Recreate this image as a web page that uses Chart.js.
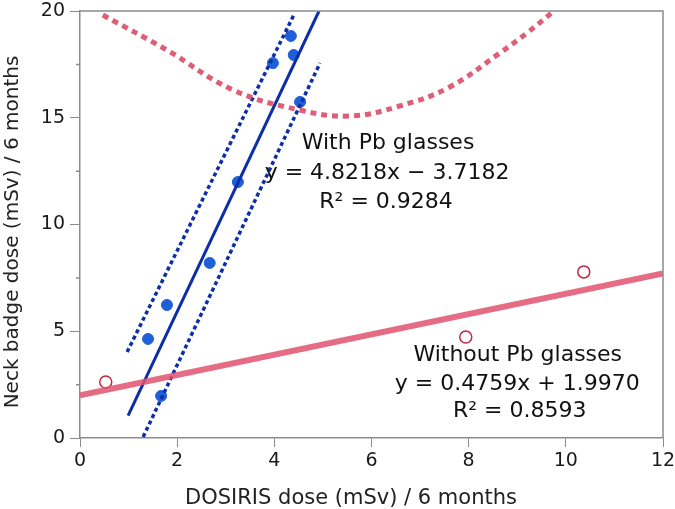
<!DOCTYPE html>
<html>
<head>
<meta charset="utf-8">
<script src="https://cdn.jsdelivr.net/npm/chart.js@4/dist/chart.umd.min.js"></script>
<style>
  html, body { margin: 0; padding: 0; background: #fff; }
  #wrap { width: 675px; height: 509px; }
</style>
</head>
<body>
<div id="wrap"><canvas id="doseChart"></canvas></div>
<script>
// With Pb glasses (filled blue)
const withPbX = [1.40, 1.67, 1.79, 2.67, 3.25, 3.97, 4.34, 4.40, 4.53];
const withPbY = [4.64, 1.97, 6.23, 8.20, 11.99, 17.56, 18.83, 17.94, 15.74];
// Without Pb glasses (open red)
const withoutPbX = [0.53, 7.94, 10.37];
const withoutPbY = [2.62, 4.73, 7.78];

// fitted lines and bands (end points)
const withFitX = [0.99, 4.92];
const withFitY = [1.05, 20.0];
const withUpperX = [0.97, 4.42];
const withUpperY = [4.03, 19.9];
const withLowerX = [1.30, 4.94];
const withLowerY = [0.05, 17.56];
const withoutFitX = [0, 12];
const withoutFitY = [1.997, 7.708];
const curveX = [0.47, 1.79, 3.15, 4.53, 5.56, 6.58, 7.61, 8.64, 9.20, 9.73];
const curveY = [19.81, 18.17, 16.30, 15.36, 15.08, 15.55, 16.44, 18.03, 18.97, 19.95];

const xTicks = [0, 2, 4, 6, 8, 10, 12];
const yTicks = [0, 5, 10, 15, 20];
const yMinorTicks = [2.5, 7.5, 12.5, 17.5];

const xTitle = 'DOSIRIS dose (mSv) / 6 months';
const yTitle = 'Neck badge dose (mSv) / 6 months';

const pts = (xs, ys) => xs.map((x, i) => ({ x: x, y: ys[i] }));

const notes = [
  { x: 6.34, y: 13.8, text: 'With Pb glasses' },
  { x: 6.32, y: 12.4, text: 'y = 4.8218x \u2212 3.7182' },
  { x: 6.30, y: 11.05, text: 'R\u00b2 = 0.9284' },
  { x: 9.01, y: 3.89, text: 'Without Pb glasses' },
  { x: 9.00, y: 2.53, text: 'y = 0.4759x + 1.9970' },
  { x: 9.05, y: 1.26, text: 'R\u00b2 = 0.8593' }
];

const AXIS_GREY = '#8c8c8c';
const FONT = '"DejaVu Sans", sans-serif';

const frameAndText = {
  id: 'frameAndText',
  afterDatasetsDraw(chart) {
    const ctx = chart.ctx, a = chart.chartArea;
    const xs = chart.scales.x, ys = chart.scales.y;
    ctx.save();
    ctx.strokeStyle = AXIS_GREY;
    ctx.lineWidth = 1.5;
    ctx.beginPath();
    ctx.moveTo(a.left, a.top);
    ctx.lineTo(a.right, a.top);
    ctx.lineTo(a.right, a.bottom);
    // short minor ticks on the y axis
    yMinorTicks.forEach(v => {
      const py = ys.getPixelForValue(v);
      ctx.moveTo(a.left - 4, py);
      ctx.lineTo(a.left, py);
    });
    ctx.stroke();

    ctx.fillStyle = '#111';
    ctx.font = '22px ' + FONT;
    ctx.textAlign = 'center';
    ctx.textBaseline = 'middle';
    notes.forEach(n => {
      ctx.fillText(n.text, xs.getPixelForValue(n.x), ys.getPixelForValue(n.y));
    });

    // axis titles
    ctx.fillStyle = '#222';
    ctx.font = '21px ' + FONT;
    ctx.fillText(xTitle, a.left + 271, 499);
    ctx.translate(13, a.top + 221);
    ctx.rotate(-Math.PI / 2);
    ctx.font = '20px ' + FONT;
    ctx.fillText(yTitle, 0, 0);
    ctx.restore();
  }
};

new Chart(document.getElementById('doseChart'), {
  type: 'scatter',
  data: {
    datasets: [
      {
        label: 'Without Pb fit',
        data: pts(withoutFitX, withoutFitY),
        showLine: true,
        borderColor: 'rgba(224,82,110,0.85)',
        borderWidth: 6,
        pointRadius: 0,
        order: 1
      },
      {
        label: 'Without Pb band',
        data: pts(curveX, curveY),
        showLine: true,
        tension: 0.4,
        borderColor: 'rgba(220,76,104,0.9)',
        borderWidth: 5,
        borderDash: [6, 5],
        pointRadius: 0,
        order: 2
      },
      {
        label: 'Without Pb glasses',
        data: pts(withoutPbX, withoutPbY),
        backgroundColor: '#ffffff',
        borderColor: '#c02848',
        borderWidth: 1.5,
        pointRadius: 6,
        order: 3
      },
      {
        label: 'With Pb fit',
        data: pts(withFitX, withFitY),
        showLine: true,
        borderColor: '#0c2ea6',
        borderWidth: 3,
        pointRadius: 0,
        order: 4
      },
      {
        label: 'With Pb upper',
        data: pts(withUpperX, withUpperY),
        showLine: true,
        borderColor: '#0c2ea6',
        borderWidth: 3.5,
        borderDash: [4, 3],
        pointRadius: 0,
        order: 5
      },
      {
        label: 'With Pb lower',
        data: pts(withLowerX, withLowerY),
        showLine: true,
        borderColor: '#0c2ea6',
        borderWidth: 3.5,
        borderDash: [4, 3],
        pointRadius: 0,
        order: 6
      },
      {
        label: 'With Pb glasses',
        data: pts(withPbX, withPbY),
        backgroundColor: '#1f5fd8',
        borderColor: '#1f5fd8',
        pointRadius: 5.5,
        order: 7
      }
    ]
  },
  options: {
    responsive: true,
    maintainAspectRatio: false,
    animation: false,
    layout: { padding: { top: 11, right: 12, left: 0, bottom: 0 } },
    plugins: {
      legend: { display: false },
      tooltip: { enabled: false }
    },
    scales: {
      x: {
        type: 'linear',
        min: 0,
        max: 12,
        afterBuildTicks: s => { s.ticks = xTicks.map(v => ({ value: v })); },
        afterFit: s => { s.height = 71; s.paddingLeft = 0; s.paddingRight = 0; },
        grid: { display: true, drawOnChartArea: false, drawTicks: true, tickLength: 9, color: AXIS_GREY },
        border: { display: true, color: AXIS_GREY, width: 1.5 },
        ticks: {
          color: '#1a1a1a',
          padding: 3,
          maxRotation: 0,
          font: { family: FONT, size: 19 }
        },
        title: { display: false }
      },
      y: {
        type: 'linear',
        min: 0,
        max: 20,
        afterBuildTicks: s => { s.ticks = yTicks.map(v => ({ value: v })); },
        afterFit: s => { s.width = 80; s.paddingTop = 0; s.paddingBottom = 0; },
        grid: { display: true, drawOnChartArea: false, drawTicks: true, tickLength: 10, color: AXIS_GREY },
        border: { display: true, color: AXIS_GREY, width: 1.5 },
        ticks: {
          color: '#1a1a1a',
          padding: 5,
          font: { family: FONT, size: 19 }
        },
        title: { display: false }
      }
    }
  },
  plugins: [frameAndText]
});
</script>
</body>
</html>
